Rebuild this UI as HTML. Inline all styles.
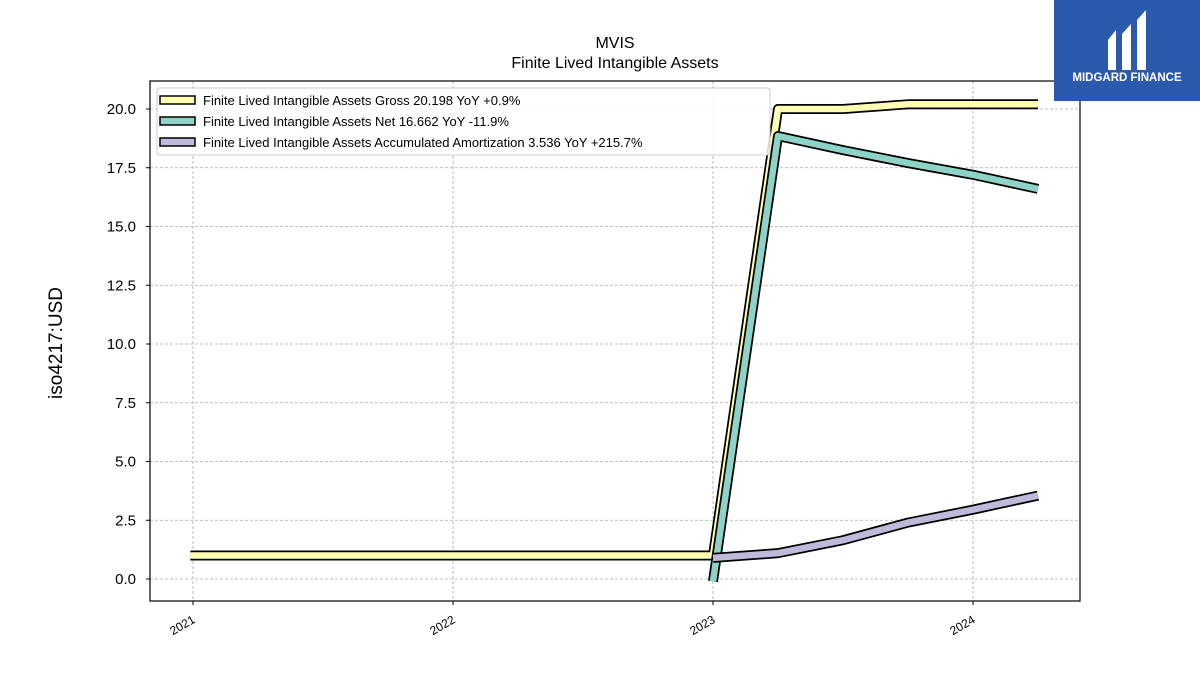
<!DOCTYPE html>
<html><head><meta charset="utf-8"><style>
body{margin:0;background:#fff;width:1200px;height:675px;overflow:hidden;font-family:"Liberation Sans","DejaVu Sans",sans-serif}
svg{display:block}
</style></head><body>
<svg id="chart" width="1200" height="675">
<text x="615" y="48" text-anchor="middle" font-size="16">MVIS</text>
<text x="615" y="68" text-anchor="middle" font-size="16">Finite Lived Intangible Assets</text>
<text transform="translate(62,343) rotate(-90)" text-anchor="middle" font-size="19">iso4217:USD</text>
<g id="grid"></g>
<g id="series"></g>
<rect x="150" y="81" width="930" height="520" fill="none" stroke="#000" stroke-width="1.2"/>
<g id="ticks"></g>
<g id="legend"></g>
<g>
<rect x="1054" y="0" width="146" height="101" fill="#2b5aad"/>
<path d="M1108 40 L1116 30 L1116 70 L1108 70 Z M1122 34 L1131 24 L1131 70 L1122 70 Z M1137 20 L1146 10 L1146 70 L1137 70 Z" fill="#fff"/>
<text x="1127" y="81" text-anchor="middle" font-size="11.5" font-weight="bold" fill="#fff">MIDGARD FINANCE</text>
</g>
</svg>
<script>
const categories = ["Finite Lived Intangible Assets Gross  20.198 YoY +0.9%","Finite Lived Intangible Assets Net  16.662 YoY -11.9%","Finite Lived Intangible Assets Accumulated Amortization  3.536 YoY +215.7%"];
const grossDates = [2020.99, 2023.0, 2023.25, 2023.5, 2023.75, 2024.25];
const grossValues = [1.0, 1.0, 20.0, 20.0, 20.2, 20.2];
const netDates = [2023.0, 2023.25, 2023.5, 2023.75, 2024.0, 2024.25];
const netValues = [-0.1, 18.85, 18.25, 17.7, 17.2, 16.6];
const amortDates = [2023.0, 2023.25, 2023.5, 2023.75, 2024.0, 2024.25];
const amortValues = [0.9, 1.1, 1.65, 2.4, 2.95, 3.55];
const yTicks = [0,2.5,5,7.5,10,12.5,15,17.5,20];
const yTickLabels = ["0.0","2.5","5.0","7.5","10.0","12.5","15.0","17.5","20.0"];
const xTicks = [2021,2022,2023,2024];
const xTickLabels = ["2021","2022","2023","2024"];
const colors = ["#ffffb3","#8dd3c7","#bebada"];
const NS="http://www.w3.org/2000/svg";
const xs = v => 193 + (v-2021)*260;
const ys = v => 579 - v*23.5;
function mk(tag, attrs, parent){const e=document.createElementNS(NS,tag);for(const k in attrs)e.setAttribute(k,attrs[k]);parent.appendChild(e);return e;}
const grid=document.getElementById('grid'), ticks=document.getElementById('ticks'), series=document.getElementById('series'), legend=document.getElementById('legend');
yTicks.forEach((t,i)=>{
  const g=mk('line',{x1:150,x2:1080,y1:ys(t),y2:ys(t),stroke:'#aaa','stroke-dasharray':'3,2','stroke-width':0.8},grid);
  
  
  mk('line',{x1:146,x2:150,y1:ys(t),y2:ys(t),stroke:'#000'},ticks);
  const tx=mk('text',{x:136,y:ys(t)+5,'text-anchor':'end','font-size':15},ticks);
  tx.textContent=yTickLabels[i];
  
  
});
xTicks.forEach((t,i)=>{
  const g=mk('line',{x1:xs(t),x2:xs(t),y1:81,y2:601,stroke:'#aaa','stroke-dasharray':'3,2','stroke-width':0.8},grid);
  
  
  mk('line',{x1:xs(t),x2:xs(t),y1:601,y2:605,stroke:'#000'},ticks);
  const tx=mk('text',{transform:`translate(${xs(t)+3},${622}) rotate(-30)`,'text-anchor':'end','font-size':12},ticks);
  tx.textContent=xTickLabels[i];
  
  
});
const allDates=[grossDates,netDates,amortDates], allVals=[grossValues,netValues,amortValues], names=['gross-line','net-line','amortization-line'];
allDates.forEach((d,s)=>{
  const pts=d.map((v,i)=>xs(v)+','+ys(allVals[s][i])).join(' ');
  const g=mk('g',{},series);
  
  
  mk('polyline',{points:pts,fill:'none',stroke:'#000','stroke-width':10,'stroke-linejoin':'round','stroke-linecap':'butt'},g);
  mk('polyline',{points:pts,fill:'none',stroke:colors[s],'stroke-width':6.5,'stroke-linejoin':'round','stroke-linecap':'butt'},g);
});
const lb=mk('rect',{x:157,y:88,width:613,height:67,fill:'#fff','fill-opacity':0.85,stroke:'#ccc',rx:3},legend);


categories.forEach((c,i)=>{
  const y=100+i*21;
  const g=mk('g',{},legend);
  
  
  mk('rect',{x:160,y:y-4,width:35,height:8,fill:colors[i],stroke:'#000','stroke-width':1.5},g);
  const t=mk('text',{x:203,y:y+5,'font-size':13},g);
  t.textContent=c;
});
</script>
</body></html>
